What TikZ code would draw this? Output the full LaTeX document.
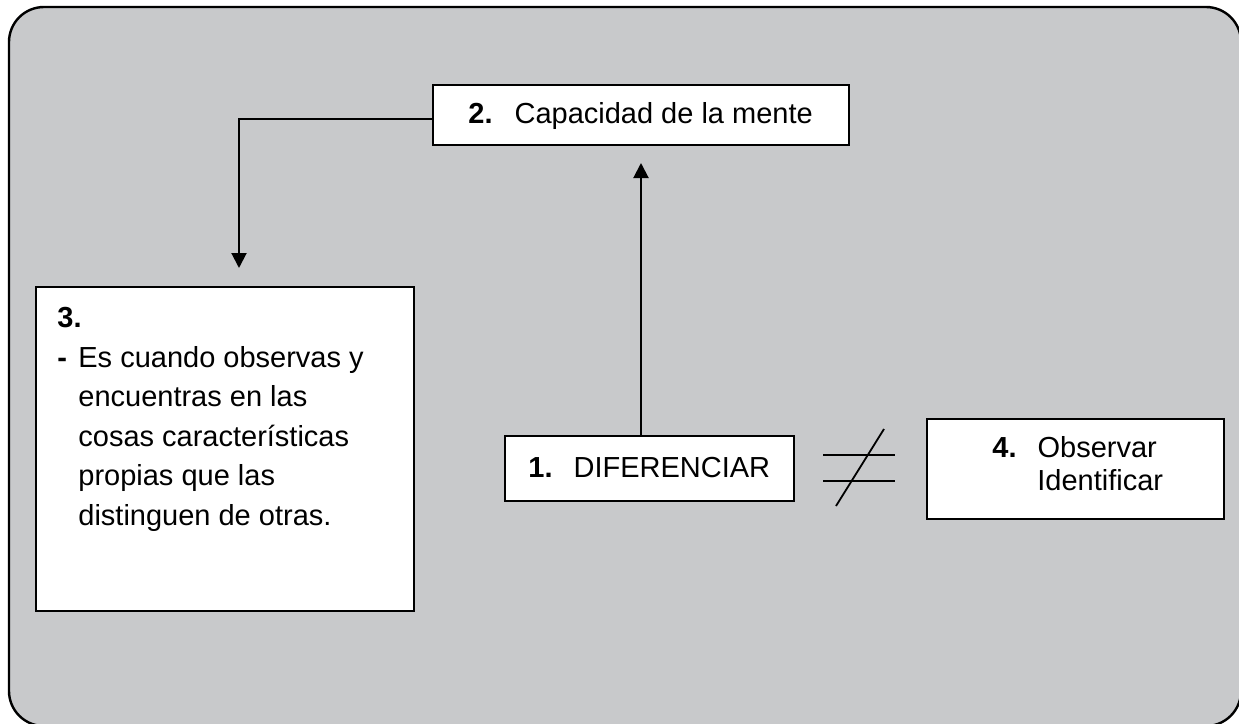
\documentclass[tikz,border=0pt]{standalone}
\usepackage{fontspec}
\setmainfont{Liberation Sans}
\usetikzlibrary{arrows.meta}
\definecolor{bggray}{RGB}{200,201,203}
\begin{document}
\begin{tikzpicture}[x=0.5pt,y=-0.5pt,
  box/.style={draw=black, line width=1pt, fill=white, rectangle, inner sep=0pt, anchor=north west},
  lbl/.style={anchor=base west, inner sep=0pt, font=\fontsize{14.5pt}{17pt}\selectfont},
  conn/.style={line width=1pt, -{Triangle[width=7.5pt,length=7.5pt]}},
  sign/.style={line width=0.9pt}]
\useasboundingbox (0,0) rectangle (1239,724);
\clip (0,0) rectangle (1239,724);
\draw[fill=bggray, line width=1.2pt, rounded corners=17.5pt] (9,7) rectangle (1241,726);
% boxes
\node[box, minimum width=208pt, minimum height=30pt] (b2) at (432,84) {};
\node[box, minimum width=144.5pt, minimum height=32.5pt] (b1) at (504,435) {};
\node[box, minimum width=189pt, minimum height=162pt] (b3) at (35,286) {};
\node[box, minimum width=148.5pt, minimum height=50pt] (b4) at (926,418) {};
% texts (multi-line nodes: base = last line)
\node[lbl] (t2) at (468,123) {\textbf{2.}\hspace{11pt}Capacidad de la mente};
\node[lbl] (t1) at (528,477) {\textbf{1.}\hspace{10.5pt}DIFERENCIAR};
\node[lbl, font=\fontsize{14.5pt}{19.75pt}\selectfont, align=left] (t3) at (57,525)
  {\textbf{3.}\\
   \makebox[10.5pt][l]{\textbf{-}}Es cuando observas y\\
   \hspace*{10.5pt}encuentras en las\\
   \hspace*{10.5pt}cosas características\\
   \hspace*{10.5pt}propias que las\\
   \hspace*{10.5pt}distinguen de otras.};
\node[lbl, font=\fontsize{14.5pt}{16.5pt}\selectfont, align=left] (t4) at (992,490)
  {\textbf{4.}\hspace{10.5pt}Observar\\
   \hspace*{22.5pt}Identificar};
% connectors
\coordinate (a3) at (239,268);
\coordinate (a2) at (641,163);
\draw[conn] ([yshift=-2pt]b2.west) -| (a3);
\draw[conn] (b1.north -| a2) -- (a2);
% not-equal sign
\draw[sign] (823,455) -- (895,455);
\draw[sign] (823,481) -- (895,481);
\draw[sign] (836,506) -- (884,429);
\end{tikzpicture}
\end{document}
